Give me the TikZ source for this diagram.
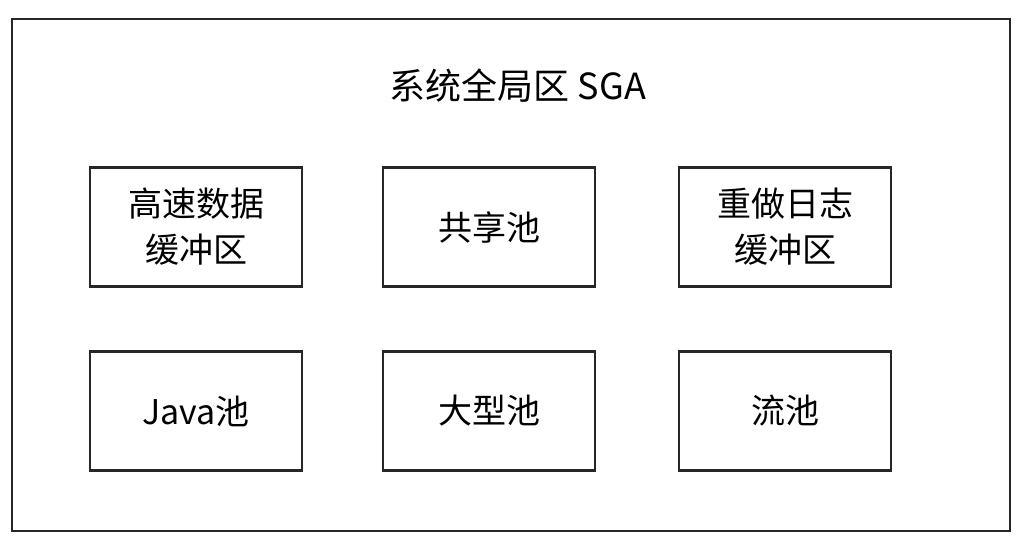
\documentclass[tikz,border=0pt]{standalone}
\usepackage{fontspec}
\setmainfont{Noto Sans CJK SC}
\begin{document}
\begin{tikzpicture}[x=1pt,y=-1pt,
  pool/.style={draw=black!85,line width=2.8pt,minimum width=212pt,minimum height=119pt,align=center,inner sep=0pt,font=\fontsize{34}{46}\selectfont},
  lbl/.style={font=\fontsize{36}{42}\selectfont,inner sep=0pt}]
\useasboundingbox (0,0) rectangle (1023,545);
\fill[white] (0,0) rectangle (1023,545);
\draw[black!85,line width=2.8pt] (12,19) rectangle (1010,531);
\node[lbl] (title) at (518,86) {系统全局区 SGA};
\node[pool] (b1) at (196,227) {高速数据\\缓冲区};
\node[pool] (b2) at (489,227) {共享池};
\node[pool] (b3) at (785,227) {重做日志\\缓冲区};
\node[pool] (b4) at (196,411) {Java池};
\node[pool] (b5) at (489,411) {大型池};
\node[pool] (b6) at (785,411) {流池};
\end{tikzpicture}
\end{document}
